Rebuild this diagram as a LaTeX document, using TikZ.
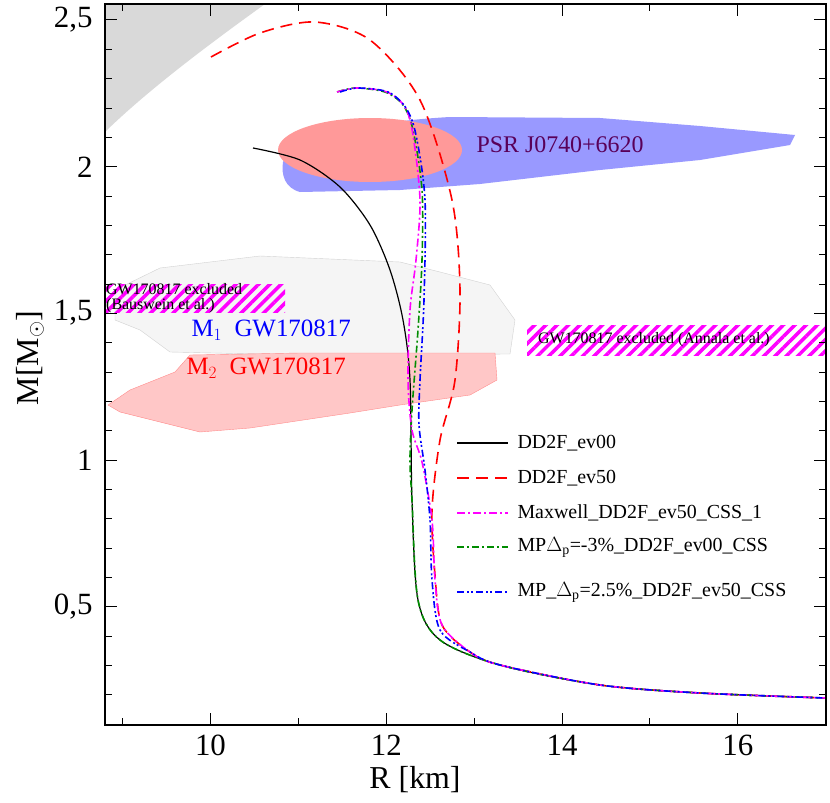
\documentclass[tikz,border=0pt]{standalone}
\usepackage{fontspec}
\setmainfont{Liberation Serif}
\usetikzlibrary{patterns.meta}
\definecolor{mag}{RGB}{255,0,255}
\begin{document}
\begin{tikzpicture}[x=1bp,y=-1bp,
  curve/.style={line width=1.6bp},
  hatch/.style={pattern={Lines[angle=45,distance=8bp,line width=3.5bp]},pattern color=mag},
  ticklab/.style={font=\fontsize{31}{31}\selectfont},
  leg/.style={font=\fontsize{20}{20}\selectfont,anchor=west}]
\useasboundingbox (0,0) rectangle (830,803);
\begin{scope}
\clip (105,4) rectangle (826,725);
% gray excluded
\fill[gray!30] (105,4) -- (265,4) .. controls (215,40) and (150,88) .. (105,132) -- cycle;
% PSR blob
\fill[blue!40] (283,162) .. controls (290,140) and (360,122) .. (450,117) -- (600,118) -- (700,126) -- (795,135) -- (790,145) -- (700,160) -- (600,170) -- (480,184) -- (400,190) -- (300,192) .. controls (285,188) and (281,175) .. (283,162) -- cycle;
\fill[red!40] (370,150) ellipse [x radius=92, y radius=32];
% GW regions
\filldraw[fill=gray!8,draw=gray!35] (115,290) -- (160,268) -- (260,256) -- (400,262) -- (440,272) -- (490,285) -- (515,320) -- (510,354) -- (300,355) -- (170,352) -- (140,330) -- (115,320) -- cycle;
\filldraw[fill=red!22,draw=red!45] (108,405) -- (130,390) -- (175,372) -- (190,355) -- (300,353) -- (495,353) -- (497,380) -- (470,395) -- (400,405) -- (350,413) -- (250,428) -- (200,432) -- (120,412) -- cycle;
% hatched boxes
\fill[hatch] (105,284) rectangle (285,312);
\fill[hatch] (527,325) rectangle (826,355);
% curves
\draw[curve,black,line width=1.2bp] plot[smooth] coordinates {(253,148) (300,160) (340,187) (370,225) (390,270) (403,320) (410,380) (412,500) (418,600) (440,640) (500,665) (600,685) (700,693) (826,698)};
\draw[curve,red,dash pattern=on 12bp off 7bp] plot[smooth] coordinates {(211,57) (260,33) (315,22) (370,40) (420,100) (452,200) (460,290) (455,380) (440,440) (432,510) (435,575) (442,625) (470,652) (500,665) (600,685) (700,693) (826,698)};
\draw[curve,green!55!black,dash pattern=on 7bp off 3bp on 2bp off 3bp] plot[smooth] coordinates {(337,92) (355,88) (385,92) (403,105) (413,130) (422,190) (422,260) (418,330) (412,410) (410,460) (412,500) (418,600) (440,640) (500,665) (600,685) (700,693) (826,698)};
\draw[curve,mag,dash pattern=on 8bp off 3bp on 2bp off 3bp] plot[smooth] coordinates {(337,92) (357,88) (387,92) (405,107) (413,135) (420,200) (416,260) (410,310) (408,380) (412,430) (422,462) (432,520) (435,580) (442,625) (470,652) (500,665) (600,685) (700,693) (826,698)};
\draw[curve,blue,dash pattern=on 7bp off 3bp on 2bp off 2bp on 2bp off 3bp] plot[smooth] coordinates {(340,92) (358,88) (388,92) (406,108) (416,135) (425,200) (424,300) (420,380) (419,425) (425,470) (430,520) (432,580) (440,630) (470,652) (500,665) (600,685) (700,693) (826,698)};
\end{scope}
% texts in plot
\node[font=\fontsize{16}{15}\selectfont,align=left,anchor=north west,inner sep=0] (tb) at (106,283) {GW170817 excluded\\(Bauswein et al.)};
\node[font=\fontsize{16}{15}\selectfont,anchor=west,inner sep=0] (ta) at (538,340) {GW170817 excluded (Annala et al.)};
\node[font=\fontsize{25}{25}\selectfont,text=blue,anchor=west] (m1) at (188,330) {M$_1$\enspace GW170817};
\node[font=\fontsize{25}{25}\selectfont,text=red,anchor=west] (m2) at (183,368) {M$_2$\enspace GW170817};
\node[font=\fontsize{24}{24}\selectfont,text=violet!70!black] (psr) at (560,145) {PSR J0740+6620};
% legend
\coordinate (l1) at (457,443); \coordinate (r1) at (508,443);
\coordinate (l2) at (457,478); \coordinate (r2) at (508,478);
\coordinate (l3) at (457,513); \coordinate (r3) at (508,513);
\coordinate (l4) at (457,547); \coordinate (r4) at (508,547);
\coordinate (l5) at (457,592); \coordinate (r5) at (508,592);
\draw[curve,black,line width=1.2bp] (l1) -- (r1);
\draw[curve,red,dash pattern=on 12bp off 7bp] (l2) -- (r2);
\draw[curve,mag,dash pattern=on 8bp off 3bp on 2bp off 3bp] (l3) -- (r3);
\draw[curve,green!55!black,dash pattern=on 7bp off 3bp on 2bp off 3bp] (l4) -- (r4);
\draw[curve,blue,dash pattern=on 7bp off 3bp on 2bp off 2bp on 2bp off 3bp] (l5) -- (r5);
\node[leg] (t1) at (514,443) {DD2F\_ev00};
\node[leg] (t2) at (514,478) {DD2F\_ev50};
\node[leg] (t3) at (514,513) {Maxwell\_DD2F\_ev50\_CSS\_1};
\node[leg] (t4) at (514,547) {MP$\Delta_{\mathrm{p}}$=-3\%\_DD2F\_ev00\_CSS};
\node[leg] (t5) at (514,592) {MP\_$\Delta_{\mathrm{p}}$=2.5\%\_DD2F\_ev50\_CSS};
% frame and ticks
\draw[line width=1.5bp] (105,4) rectangle (826,725);
\foreach \r in {9,...,17}{
  \pgfmathsetmacro\px{105+(\r-8.8)*87.9}
  \pgfmathsetmacro\len{mod(\r,2)==0 ? 12 : 7}
  \draw[line width=1bp] (\px,725) -- ++(0,-\len);
  \draw[line width=1bp] (\px,4) -- ++(0,\len);
}
\foreach \r in {10,12,14,16}{
  \pgfmathsetmacro\px{105+(\r-8.8)*87.9}
  \node[ticklab] at (\px,745) {\r};
}
\foreach \m in {1,...,25}{
  \pgfmathsetmacro\py{20+(2.5-\m/10)*293.4}
  \pgfmathsetmacro\len{mod(\m,5)==0 ? 12 : 7}
  \draw[line width=1bp] (105,\py) -- ++(\len,0);
  \draw[line width=1bp] (826,\py) -- ++(-\len,0);
}
\node[ticklab,anchor=east] at (96,20) {2,5};
\node[ticklab,anchor=east] at (96,167) {2};
\node[ticklab,anchor=east] at (96,313) {1,5};
\node[ticklab,anchor=east] at (96,460) {1};
\node[ticklab,anchor=east] at (96,607) {0,5};
\node[font=\fontsize{32}{32}\selectfont] (xl) at (415,780) {R [km]};
\node[font=\fontsize{32}{32}\selectfont,rotate=90] (yl) at (30,358) {M[M$_\odot$]};
\end{tikzpicture}
\end{document}
